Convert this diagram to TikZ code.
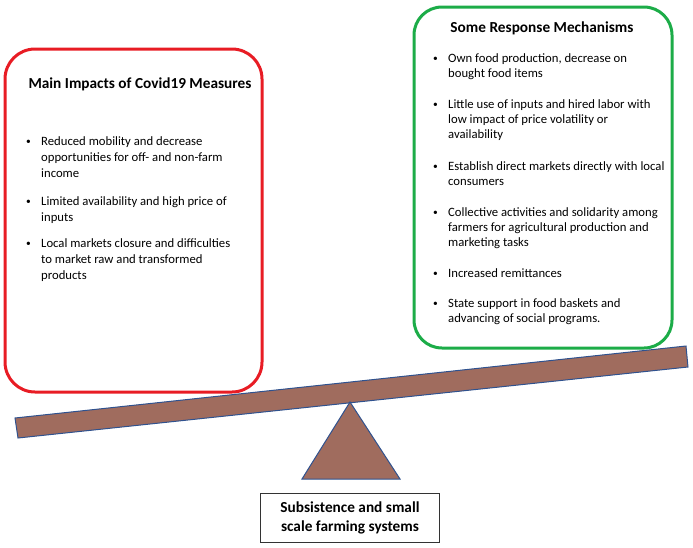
\documentclass[tikz,border=0pt]{standalone}
\usepackage{fontspec}
\setmainfont{Carlito}
\definecolor{redbox}{RGB}{232,28,36}
\definecolor{greenbox}{RGB}{28,172,72}
\definecolor{plankfill}{RGB}{160,108,94}
\definecolor{plankline}{RGB}{47,82,143}
\tikzset{
  panel/.style={line width=3pt, rounded corners=30pt},
  titletext/.style={font=\fontsize{15.3}{18}\selectfont\bfseries, inner sep=0pt, anchor=base},
  itemtext/.style={inner sep=0pt, anchor=base west},
  bul/.style={inner sep=0pt, anchor=base west, font=\fontsize{9.5}{10}\selectfont},
  redfont/.style={font=\fontsize{12.7}{16}\selectfont},
  greenfont/.style={font=\fontsize{12.7}{15.4}\selectfont},
  wood/.style={fill=plankfill, draw=plankline, line width=1pt, line join=miter},
  basebox/.style={draw=black!80, line width=1pt, minimum width=179pt, minimum height=49pt, align=center, font=\fontsize{15.3}{19}\selectfont\bfseries, inner sep=0pt}
}
\newcommand{\myitem}[5]{%
  \node[bul] (#1b) at (#2+1,#3-1) {\textbullet};
  \node[itemtext,#5] (#1) at (#2+16,#3) {\begin{tabular}[t]{@{}l@{}}#4\end{tabular}};
}
\begin{document}
\begin{tikzpicture}[x=1pt,y=-1pt]
\useasboundingbox (0,0) rectangle (693,547);
% left panel
\draw[panel, draw=redbox] (5,49) rectangle (262,392);
\node[titletext] (lt) at (140,88) {Main Impacts of Covid19 Measures};
\myitem{l1}{25}{145}{Reduced mobility and decrease\\opportunities for off- and non-farm\\income}{redfont}
\myitem{l2}{25}{205}{Limited availability and high price of\\inputs}{redfont}
\myitem{l3}{25}{247}{Local markets closure and difficulties\\to market raw and transformed\\products}{redfont}
% right panel
\draw[panel, draw=greenbox, rounded corners=28pt] (414,7) rectangle (672,348);
\node[titletext] (rt) at (542,32) {Some Response Mechanisms};
\myitem{r1}{432}{62}{Own food production, decrease on\\bought food items}{greenfont}
\myitem{r2}{432}{108}{Little use of inputs and hired labor with\\low impact of price volatility or\\availability}{greenfont}
\myitem{r3}{432}{170}{Establish direct markets directly with local\\consumers}{greenfont}
\myitem{r4}{432}{216}{Collective activities and solidarity among\\farmers for agricultural production and\\marketing tasks}{greenfont}
\myitem{r5}{432}{277}{Increased remittances}{greenfont}
\myitem{r6}{432}{307}{State support in food baskets and\\advancing of social programs.}{greenfont}
% seesaw
\draw[wood] (15,418) -- (686,346) -- (688,367) -- (18,438) -- cycle;
\draw[wood] (350,402) -- (400,479) -- (302,479) -- cycle;
% base box
\node[basebox] (base) at (350,517.5) {Subsistence and small\\scale farming systems};
\end{tikzpicture}
\end{document}
